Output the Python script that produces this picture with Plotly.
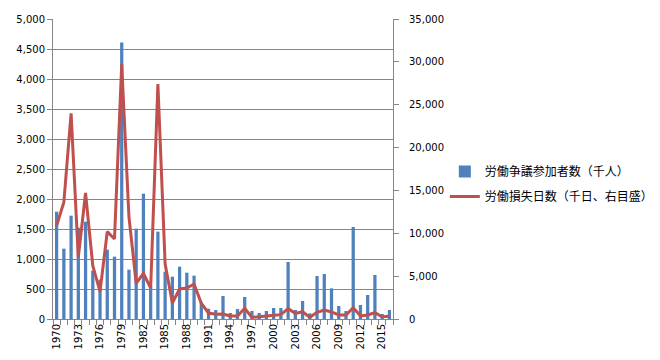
import plotly.graph_objects as go

years = list(range(1970, 2017))
participants = [1789, 1172, 1722, 1522, 1622, 806, 656, 1156, 1039, 4610,
                822, 1506, 2089, 540, 1456, 789, 706, 872, 772, 722,
                278, 172, 150, 383, 100, 167, 367, 133, 100, 133,
                183, 183, 950, 150, 300, 94, 717, 750, 511, 217,
                133, 1533, 233, 400, 733, 83, 150]
days_lost = [10890, 13620, 24000, 7200, 14700, 6220, 3190, 10190, 9340, 29700,
             11900, 4160, 5330, 3620, 27400, 6420, 1870, 3500, 3620, 4080,
             1830, 700, 560, 580, 350, 350, 1245, 195, 270, 310,
             430, 505, 1205, 660, 850, 195, 780, 1050, 820, 470,
             470, 1320, 350, 470, 740, 270, 310]
label_years = list(range(1970, 2017, 3))

fig = go.Figure()
fig.add_trace(go.Bar(x=years, y=participants, name="労働争議参加者数（千人）",
                     marker=dict(color="#4F81BD", line=dict(width=0)), width=0.45,
                     legendgroup="a", yaxis="y"))
fig.add_trace(go.Scatter(x=years, y=days_lost, name="労働損失日数（千日、右目盛）",
                         mode="lines", line=dict(color="#C0504D", width=3),
                         legendgroup="b", yaxis="y2"))

axcol = "#868686"
fig.update_layout(
    width=652, height=352,
    margin=dict(l=45, r=267, t=11, b=41, autoexpand=False),
    paper_bgcolor="white", plot_bgcolor="white",
    font=dict(family="DejaVu Sans", size=10, color="#000000"),
    showlegend=True,
    legend=dict(xref="container", yref="container", x=0.670, y=0.50,
                xanchor="left", yanchor="middle",
                font=dict(family="Noto Sans CJK JP", size=12, color="#000000"),
                tracegroupgap=6, bgcolor="rgba(0,0,0,0)"),
    xaxis=dict(range=[1969.5, 2016.5], tickmode="array", tickvals=label_years,
               ticktext=[str(y) for y in label_years], tickangle=-90,
               ticks="", showgrid=False, showline=True, linecolor=axcol, linewidth=1,
               zeroline=False, automargin=False,
               minor=dict(ticks="outside", tick0=1969.5, dtick=1, ticklen=5,
                          tickcolor=axcol, showgrid=False)),
    yaxis=dict(range=[0, 5000], dtick=500, tickformat=",", showgrid=True,
               gridcolor=axcol, gridwidth=1, showline=True, linecolor=axcol,
               ticks="outside", ticklen=5, tickcolor=axcol, zeroline=False,
               automargin=False),
    yaxis2=dict(range=[0, 35000], dtick=5000, tickformat=",", overlaying="y",
                side="right", showgrid=False, showline=True, linecolor=axcol,
                ticks="outside", ticklen=5, tickcolor=axcol, zeroline=False,
                ticklabelstandoff=8, automargin=False),
    bargap=0.5,
)
fig.write_html("out.html")
